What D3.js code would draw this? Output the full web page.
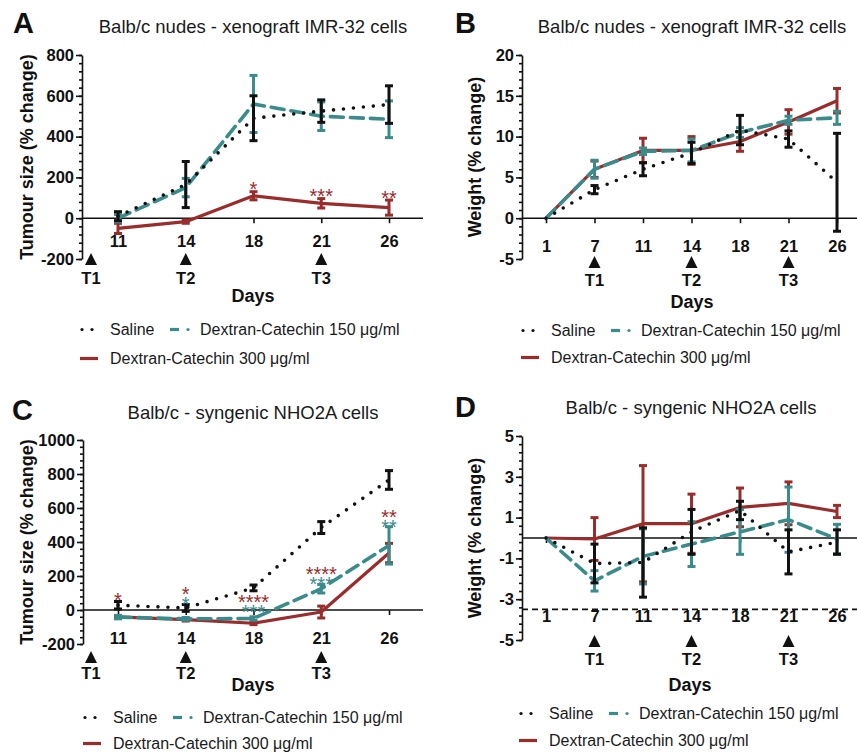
<!DOCTYPE html>
<html>
<head>
<meta charset="utf-8">
<script src="https://cdn.jsdelivr.net/npm/d3@7"></script>
<style>
  body { margin: 0; background: #fff; }
  svg { display: block; font-family: "Liberation Sans", Arial, sans-serif; }
</style>
</head>
<body>
<script>
// ---- data ----
const daysTumour = [11, 14, 18, 21, 26];
const daysWeight = [1, 7, 11, 14, 18, 21, 26];
const seriesNames = ["Saline", "Dextran-Catechin 150 \u03bcg/ml", "Dextran-Catechin 300 \u03bcg/ml"];
const treatments = [["T1", 7], ["T2", 14], ["T3", 21]];

// A: tumour size, xenograft IMR-32
const salineA = [10, 165, 490, 525, 557];
const salineAErr = [22, 113, 110, 55, 92];
const dc150A = [0, 150, 560, 500, 485];
const dc150AErr = [18, 45, 140, 70, 90];
const dc300A = [-50, -17, 110, 73, 52];
const dc300AErr = [25, 8, 20, 23, 37];
const starsA150 = ["", "", "", "", ""];
const starsA300 = ["", "", "*", "***", "**"];
const starBaseA = [0, 0, 167, 132, 123];

// B: weight, xenograft IMR-32
const salineB = [0, 3.5, 6.0, 8.0, 10.8, 9.7, 4.4];
const salineBErr = [0, 0.5, 0.8, 1.3, 1.8, 1.0, 6.0];
const dc150B = [0, 6.0, 8.2, 8.3, 10.5, 12.0, 12.3];
const dc150BErr = [0, 1.1, 0.4, 1.4, 0.6, 0.5, 0.8];
const dc300B = [0, 6.0, 8.3, 8.3, 9.4, 11.8, 14.4];
const dc300BErr = [0, 1.0, 1.5, 1.7, 1.2, 1.5, 1.5];

// C: tumour size, syngenic NHO2A
const salineC = [28, 12, 130, 485, 765];
const salineCErr = [22, 20, 17, 35, 55];
const dc150C = [-42, -52, -50, 125, 380];
const dc150CErr = [10, 8, 10, 25, 110];
const dc300C = [-40, -57, -78, -12, 335];
const dc300CErr = [8, 8, 8, 35, 57];
const starsC150 = ["", "*", "***", "***", "**"];
const starsC300 = ["*", "*", "****", "****", "**"];
const starBaseC = [88, 65, 18, 182, 518];

// D: weight, syngenic NHO2A
const salineD = [0, -1.25, -1.2, 0.3, 1.35, -0.68, -0.2];
const salineDErr = [0, 0.95, 1.7, 1.1, 0.45, 1.08, 0.6];
const dc150D = [0, -2.1, -0.9, -0.3, 0.3, 0.9, -0.05];
const dc150DErr = [0, 0.5, 1.35, 1.1, 1.1, 1.6, 0.72];
const dc300D = [0, -0.05, 0.7, 0.7, 1.5, 1.7, 1.3];
const dc300DErr = [0, 1.05, 2.85, 1.45, 0.95, 1.05, 0.3];

// ---- styles ----
const black = "#111", teal = "#3a8b8b", red = "#9b2c2c";
const styles = [
  { color: black, dash: "0 10", width: 3.6 },
  { color: teal, dash: "13 7", width: 3.6 },
  { color: red, dash: null, width: 3.2 }
];
const starSize = 20;

const svg = d3.select("body").append("svg")
  .attr("width", 857)
  .attr("height", 753);
svg.append("rect").attr("width", 857).attr("height", 753).attr("fill", "#fff");

const panels = [
  { letter: "A", lx: 13, ly: 33, title: "Balb/c nudes - xenograft IMR-32 cells", tx: 253, ty: 33,
    yTitle: "Tumour size (% change)", yTitleX: 27, days: daysTumour,
    data: [[salineA, salineAErr], [dc150A, dc150AErr], [dc300A, dc300AErr]],
    stars: [starsA150, starsA300], starBase: starBaseA,
    ax: 82, xr: [118, 389], xEnd: 423, yt: 55, yb: 259, domain: [-200, 800],
    ticks: d3.range(-200, 801, 200), minorStep: 40, tickLabY: 247, triY: 265, tLabY: 284,
    daysX: 253, daysY: 302, t1x: 91, legX: 80, leg1: 335, leg2: 364 },
  { letter: "B", lx: 455, ly: 33, title: "Balb/c nudes - xenograft IMR-32 cells", tx: 692, ty: 33,
    yTitle: "Weight (% change)", yTitleX: 475, days: daysWeight,
    data: [[salineB, salineBErr], [dc150B, dc150BErr], [dc300B, dc300BErr]],
    ax: 522, xr: [546, 837], xEnd: 857, yt: 55, yb: 259, domain: [-5, 20],
    ticks: d3.range(-5, 21, 5), minorStep: 1, tickLabY: 252, triY: 268, tLabY: 286,
    daysX: 692, daysY: 308, legX: 521, leg1: 336, leg2: 363 },
  { letter: "C", lx: 12, ly: 420, title: "Balb/c - syngenic NHO2A cells", tx: 253, ty: 419,
    yTitle: "Tumour size (% change)", yTitleX: 27, days: daysTumour,
    data: [[salineC, salineCErr], [dc150C, dc150CErr], [dc300C, dc300CErr]],
    stars: [starsC150, starsC300], starBase: starBaseC,
    ax: 83, xr: [118, 389], xEnd: 423, yt: 440, yb: 644, domain: [-200, 1000],
    ticks: d3.range(-200, 1001, 200), minorStep: 40, tickLabY: 644, triY: 663, tLabY: 679,
    daysX: 253, daysY: 691, t1x: 91, legX: 83, leg1: 723, leg2: 749 },
  { letter: "D", lx: 455, ly: 417, title: "Balb/c - syngenic NHO2A cells", tx: 691, ty: 414,
    yTitle: "Weight (% change)", yTitleX: 475, days: daysWeight,
    data: [[salineD, salineDErr], [dc150D, dc150DErr], [dc300D, dc300DErr]],
    ax: 522, xr: [546, 837], xEnd: 857, yt: 436, yb: 640, domain: [-5, 5],
    ticks: [-5, -3, -1, 1, 3, 5], minorStep: 0.4, tickLabY: 622, triY: 647, tLabY: 665,
    daysX: 690, daysY: 691, legX: 519, leg1: 719, leg2: 746, refLine: -3.5 }
];

function styleAxis(a) {
  a.attr("font-family", null).attr("font-size", null);
  a.selectAll("line, path").attr("stroke", black).attr("stroke-width", 1.6);
  a.selectAll("text").attr("fill", black).attr("font-size", 16.5).attr("font-weight", "bold");
}

function drawPanel(p) {
  const g = svg.append("g");
  const x = d3.scalePoint().domain(p.days).range(p.xr);
  const y = d3.scaleLinear().domain(p.domain).range([p.yb, p.yt]);
  const y0 = y(0);

  g.append("text").attr("x", p.lx).attr("y", p.ly)
    .attr("font-size", 29).attr("font-weight", "bold").attr("fill", black).text(p.letter);
  g.append("text").attr("x", p.tx).attr("y", p.ty).attr("text-anchor", "middle")
    .attr("font-size", 18.5).attr("fill", "#1a1a1a").text(p.title);

  // y axis, minor then major ticks
  const minor = d3.range(p.domain[0], p.domain[1] + p.minorStep / 2, p.minorStep);
  g.append("g").attr("transform", `translate(${p.ax},0)`)
    .call(d3.axisLeft(y).tickValues(minor).tickSize(3).tickFormat(""))
    .call(styleAxis)
    .call(a => a.select(".domain").remove());
  g.append("g").attr("transform", `translate(${p.ax},0)`)
    .call(d3.axisLeft(y).tickValues(p.ticks).tickSize(6).tickSizeOuter(0).tickFormat(d => String(d)))
    .call(styleAxis)
    .call(a => a.selectAll("text").attr("x", -8));

  g.append("text")
    .attr("transform", `translate(${p.yTitleX},${(p.yt + p.yb) / 2}) rotate(-90)`)
    .attr("text-anchor", "middle").attr("dy", "0.35em")
    .attr("font-size", 18).attr("font-weight", "bold").attr("fill", black).text(p.yTitle);

  // x axis on the zero line
  g.append("line").attr("x1", p.ax).attr("x2", p.xEnd).attr("y1", y0).attr("y2", y0)
    .attr("stroke", black).attr("stroke-width", 1.6);
  g.append("g").attr("transform", `translate(0,${y0})`)
    .call(d3.axisBottom(x).tickSize(5).tickFormat(d => String(d)))
    .call(styleAxis)
    .call(a => a.select(".domain").remove())
    .call(a => a.selectAll("text").attr("y", p.tickLabY - y0).attr("dy", 0));

  if (p.refLine !== undefined) {
    g.append("line").attr("x1", p.ax).attr("x2", p.xEnd)
      .attr("y1", y(p.refLine)).attr("y2", y(p.refLine))
      .attr("stroke", black).attr("stroke-width", 1.6).attr("stroke-dasharray", "6 4");
  }

  // treatment markers
  treatments.forEach(([lab, day]) => {
    const tx = p.days.includes(day) ? x(day) : p.t1x;
    g.append("path")
      .attr("d", `M${tx - 6},${p.triY}L${tx + 6},${p.triY}L${tx},${p.triY - 12}Z`)
      .attr("fill", black);
    g.append("text").attr("x", tx).attr("y", p.tLabY).attr("text-anchor", "middle")
      .attr("font-size", 16.5).attr("font-weight", "bold").attr("fill", black).text(lab);
  });

  g.append("text").attr("x", p.daysX).attr("y", p.daysY).attr("text-anchor", "middle")
    .attr("font-size", 18).attr("font-weight", "bold").attr("fill", black).text("Days");

  // series: red first, teal, black on top
  [2, 1, 0].forEach(s => {
    const [vals, errs] = p.data[s];
    const st = styles[s];
    const line = d3.line().x((d, i) => x(p.days[i])).y(d => y(d));
    g.append("path").datum(vals).attr("d", line)
      .attr("fill", "none").attr("stroke", st.color).attr("stroke-width", st.width)
      .attr("stroke-dasharray", st.dash).attr("stroke-linecap", st.dash ? "round" : "butt")
      .attr("stroke-linejoin", "round");
    const bars = g.append("g").attr("stroke", st.color).attr("stroke-width", 3);
    vals.forEach((v, i) => {
      const e = errs[i];
      if (!e) return;
      const cx = x(p.days[i]);
      const lo = y(v - e), hi = y(v + e);
      bars.append("line").attr("x1", cx).attr("x2", cx).attr("y1", lo).attr("y2", hi);
      bars.append("line").attr("x1", cx - 4).attr("x2", cx + 4).attr("y1", lo).attr("y2", lo);
      bars.append("line").attr("x1", cx - 4).attr("x2", cx + 4).attr("y1", hi).attr("y2", hi);
    });
  });

  // significance stars: 150 row below, 300 row above
  if (p.stars) {
    p.days.forEach((d, i) => {
      let row = 0;
      [[p.stars[0][i], teal], [p.stars[1][i], red]].forEach(([txt, col]) => {
        if (!txt) return;
        g.append("text").attr("x", x(d))
          .attr("y", y(p.starBase[i]) + starSize * 0.58 - row * 9.5)
          .attr("text-anchor", "middle").attr("font-size", starSize).attr("fill", col).text(txt);
        row++;
      });
    });
  }

  // legend
  const lg = g.append("g").attr("font-size", 16).attr("fill", "#1a1a1a");
  const c1 = p.leg1 - 5.5, c2 = p.leg2 - 5.5;
  [p.legX + 2, p.legX + 12].forEach(cx =>
    lg.append("circle").attr("cx", cx).attr("cy", c1).attr("r", 1.6).attr("fill", black));
  lg.append("text").attr("x", p.legX + 30).attr("y", p.leg1).text(seriesNames[0]);
  lg.append("line").attr("x1", p.legX + 90).attr("x2", p.legX + 99).attr("y1", c1).attr("y2", c1)
    .attr("stroke", teal).attr("stroke-width", 3.2);
  lg.append("circle").attr("cx", p.legX + 108).attr("cy", c1).attr("r", 1.6).attr("fill", teal);
  lg.append("text").attr("x", p.legX + 120).attr("y", p.leg1).text(seriesNames[1]);
  lg.append("line").attr("x1", p.legX).attr("x2", p.legX + 18).attr("y1", c2).attr("y2", c2)
    .attr("stroke", red).attr("stroke-width", 3.2);
  lg.append("text").attr("x", p.legX + 30).attr("y", p.leg2).text(seriesNames[2]);
}

panels.forEach(drawPanel);
</script>
</body>
</html>
